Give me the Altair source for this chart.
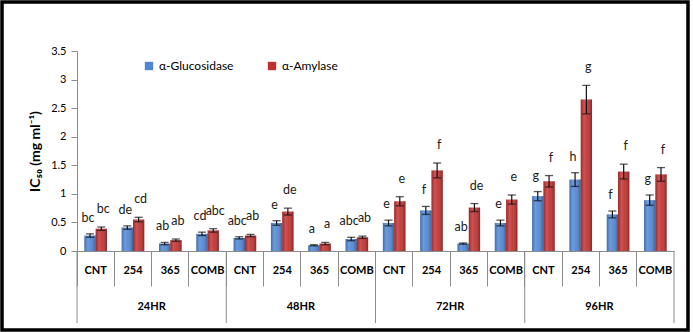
import altair as alt
import pandas as pd

hours = ["24HR", "48HR", "72HR", "96HR"]
treatments = ["CNT", "254", "365", "COMB"]
series = ["α-Glucosidase", "α-Amylase"]

gluc = [0.27, 0.41, 0.13, 0.30, 0.23, 0.49, 0.10, 0.21, 0.49, 0.71, 0.13, 0.49, 0.96, 1.25, 0.64, 0.89]
gluc_err = [0.03, 0.03, 0.02, 0.03, 0.02, 0.04, 0.01, 0.03, 0.05, 0.07, 0.01, 0.05, 0.08, 0.12, 0.06, 0.09]
amyl = [0.39, 0.55, 0.19, 0.36, 0.27, 0.69, 0.13, 0.24, 0.87, 1.41, 0.76, 0.90, 1.22, 2.65, 1.39, 1.34]
amyl_err = [0.03, 0.04, 0.02, 0.03, 0.02, 0.06, 0.02, 0.02, 0.08, 0.13, 0.07, 0.08, 0.10, 0.25, 0.13, 0.12]
gluc_letters = ["bc", "de", "ab", "cd", "abc", "e", "a", "abc", "e", "f", "ab", "e", "g", "h", "f", "g"]
amyl_letters = ["bc", "cd", "ab", "abc", "ab", "de", "a", "ab", "e", "f", "de", "e", "f", "g", "f", "f"]
y_ticks = [0, 0.5, 1, 1.5, 2, 2.5, 3, 3.5]

keys = [h + "|" + t for h in hours for t in treatments]
rows = []
for i, k in enumerate(keys):
    h, t = k.split("|")
    for s, vals, errs, lets in [(series[0], gluc, gluc_err, gluc_letters),
                                (series[1], amyl, amyl_err, amyl_letters)]:
        rows.append(dict(key=k, hour=h, treat=t, series=s, value=vals[i],
                         lo=vals[i] - errs[i], hi=vals[i] + errs[i], letter=lets[i]))
df = pd.DataFrame(rows)
hour_df = pd.DataFrame({"hour": hours, "mid": [h + "|365" for h in hours], "start": [h + "|CNT" for h in hours]})
end_df = pd.DataFrame({"key": [keys[-1]]})

W, H = 597, 200
FONT = "Lato"

xs = alt.X("key:N", sort=keys, scale=alt.Scale(domain=keys, paddingInner=0, paddingOuter=0),
           axis=alt.Axis(title=None, labelExpr="split(datum.label, '|')[1]", bandPosition=0,
                         tickSize=35, tickColor="#8c8c8c", domainColor="#8c8c8c",
                         labelFont=FONT, labelFontSize=11, labelFontWeight="bold",
                         labelColor="#000000", labelPadding=-22, labelAngle=0))
xo = alt.XOffset("series:N", sort=series,
                 scale=alt.Scale(domain=series, paddingInner=0, paddingOuter=0.65))
yscale = alt.Scale(domain=[0, 3.5], nice=False)
yaxis = alt.Axis(title="IC₅₀ (mg ml⁻¹)", values=y_ticks, format="~g", grid=False,
                 tickSize=6, tickColor="#8c8c8c", domainColor="#8c8c8c", labelFont=FONT,
                 labelFontSize=11, labelColor="#000000", labelPadding=5, titleFont=FONT,
                 titleFontSize=14, titleFontWeight="bold", titleColor="#000000",
                 titlePadding=8, labelOverlap=False)


def Y(field):
    return alt.Y(field + ":Q", scale=yscale, axis=yaxis)


color = alt.Color("series:N", sort=series,
                  scale=alt.Scale(domain=series, range=["#4F86D3", "#C0302F"]),
                  legend=alt.Legend(title=None, orient="none", legendX=66, legendY=9,
                                    direction="horizontal", symbolType="square",
                                    symbolSize=70, symbolStrokeWidth=0,
                                    labelFont=FONT, labelFontSize=12, labelColor="#000000",
                                    columnPadding=32, symbolOpacity=1))

base = alt.Chart(df)
bars = base.mark_bar(stroke=None).encode(x=xs, xOffset=xo, y=Y("value"), color=color)
shade = base.mark_bar(
    color=alt.LinearGradient(gradient="linear", x1=0, x2=1, y1=0, y2=0, stops=[
        alt.GradientStop(offset=0, color="rgba(0,0,0,0.18)"),
        alt.GradientStop(offset=0.3, color="rgba(255,255,255,0.18)"),
        alt.GradientStop(offset=0.55, color="rgba(255,255,255,0.08)"),
        alt.GradientStop(offset=1, color="rgba(0,0,0,0.3)")])
).encode(x=xs, xOffset=xo, y=Y("value"))
err = base.mark_rule(color="#111111", strokeWidth=1.2).encode(
    x=xs, xOffset=xo, y=Y("lo"), y2="hi:Q")
cap_hi = base.mark_tick(color="#111111", size=8, thickness=1.3, orient="horizontal").encode(
    x=xs, xOffset=xo, y=Y("hi"))
cap_lo = base.mark_tick(color="#111111", size=8, thickness=1.3, orient="horizontal").encode(
    x=xs, xOffset=xo, y=Y("lo"))
letters_g = base.transform_filter(alt.datum.series == series[0]).mark_text(
    font=FONT, fontSize=12.5, color="#1a1a1a", baseline="bottom", dy=-9, dx=-2).encode(
    x=xs, xOffset=xo, y=Y("hi"), text="letter:N")
letters_a = base.transform_filter(alt.datum.series == series[1]).mark_text(
    font=FONT, fontSize=12.5, color="#1a1a1a", baseline="bottom", dy=-11, dx=2).encode(
    x=xs, xOffset=xo, y=Y("hi"), text="letter:N")

hour_text = alt.Chart(hour_df).mark_text(font=FONT, fontSize=11, fontWeight="bold", color="#000000").encode(
    x=alt.X("mid:N", bandPosition=0), y=alt.value(H + 56), text="hour:N")
group_lines = alt.Chart(hour_df).mark_rule(color="#8c8c8c", strokeWidth=1).encode(
    x=alt.X("start:N", bandPosition=0), y=alt.value(H), y2=alt.value(H + 72))
end_line = alt.Chart(end_df).mark_rule(color="#8c8c8c", strokeWidth=1).encode(
    x=alt.X("key:N", bandPosition=1), y=alt.value(H), y2=alt.value(H + 72))
frame = alt.Chart(end_df).mark_rect(fill=None, stroke="#000000", strokeWidth=3.5).encode(
    x=alt.value(-75), x2=alt.value(W + 14), y=alt.value(-49), y2=alt.value(H + 79))

chart = alt.layer(bars, shade, err, cap_hi, cap_lo, letters_g, letters_a, hour_text,
                  group_lines, end_line, frame).properties(
    width=W, height=H,
    autosize=alt.AutoSizeParams(type="none"),
    padding={"left": 77, "top": 51, "right": 19, "bottom": 81},
    background="#ffffff"
).configure_view(stroke=None)

chart.save("out.html", embed_options={"renderer": "svg", "actions": False})
